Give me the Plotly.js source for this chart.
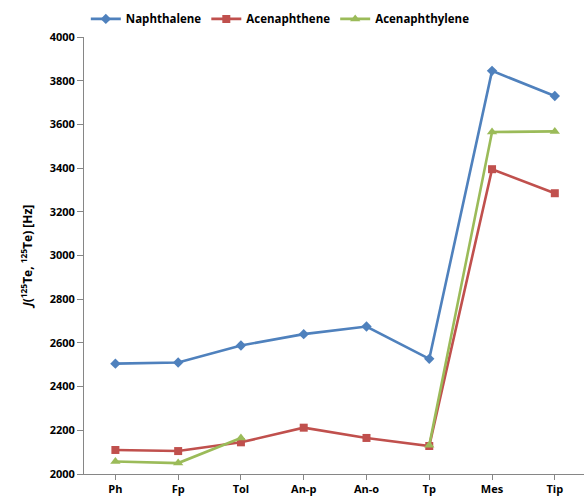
<!DOCTYPE html>
<html><head><meta charset="utf-8">
<script src="https://cdn.plot.ly/plotly-3.0.1.min.js"></script>
<style>html,body{margin:0;padding:0;background:#fff;overflow:hidden}</style>
</head><body>
<div id="chart" style="width:584px;height:497px"></div>
<script>
const categories = ["Ph","Fp","Tol","An-p","An-o","Tp","Mes","Tip"];
const naphthalene = [2505, 2510, 2588, 2640, 2675, 2527, 3845, 3730];
const acenaphthene = [2110, 2105, 2145, 2212, 2165, 2128, 3395, 3285];
const acenaphthylene = [2057, 2050, 2165, null, null, 2132, 3565, 3568];
const yTicks = [2000,2200,2400,2600,2800,3000,3200,3400,3600,3800,4000];

function tr(name, y, color, symbol, size){
  return {x: categories, y: y, name: name, type: 'scatter', mode: 'lines+markers',
    connectgaps: false,
    line: {color: color, width: 2.6},
    marker: {color: color, symbol: symbol, size: size}};
}
const data = [
  tr('Naphthalene', naphthalene, '#4F81BD', 'diamond', 8),
  tr('Acenaphthene', acenaphthene, '#C0504D', 'square', 8),
  tr('Acenaphthylene', acenaphthylene, '#9BBB59', 'triangle-up', 9)
];
const layout = {
  width: 584, height: 497,
  margin: {l: 84, r: 0, t: 37, b: 23, autoexpand: false},
  paper_bgcolor: '#fff', plot_bgcolor: '#fff',
  font: {family: 'Open Sans, Liberation Sans, sans-serif', color: '#000'},
  showlegend: true,
  legend: {orientation: 'h', x: 0.48, xref: 'container', xanchor: 'center',
    y: 0.962, yref: 'container', yanchor: 'middle',
    font: {size: 11.5, family: 'Open Sans, sans-serif', weight: 'bold'}, itemwidth: 30, tracegroupgap: 0},
  xaxis: {type: 'category', range: [-0.5, 7.465], showgrid: false, zeroline: false,
    showline: true, linecolor: '#868686', linewidth: 1, mirror: false,
    ticks: 'outside', ticklen: 5, tickcolor: '#868686',
    tickfont: {size: 11, weight: 'bold'}, fixedrange: true},
  yaxis: {range: [2000, 4000], tickvals: yTicks, showgrid: false, zeroline: false,
    showline: true, linecolor: '#868686', linewidth: 1, mirror: true,
    ticks: 'outside', ticklen: 6, tickcolor: '#868686',
    tickfont: {size: 11, weight: 'bold'},
    title: {text: '<i>J</i>(<sup>125</sup>Te, <sup>125</sup>Te) [Hz]', font: {size: 12, weight: 'bold'}, standoff: 14},
    fixedrange: true}
};
Plotly.newPlot('chart', data, layout, {displayModeBar: false, staticPlot: true});
</script>
</body></html>
